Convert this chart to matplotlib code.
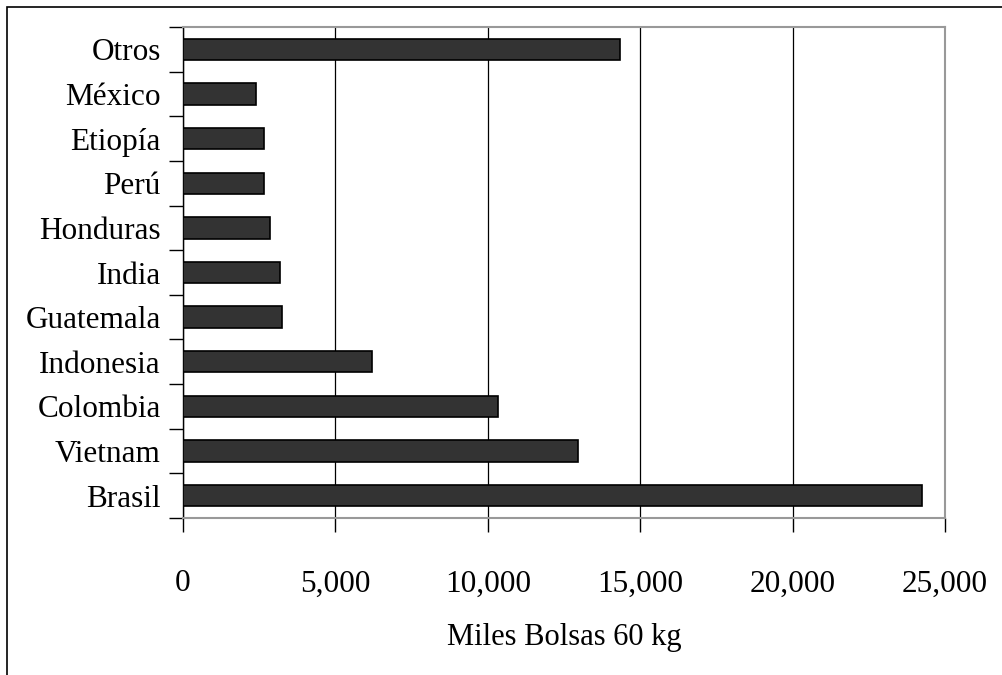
import numpy as np
import matplotlib
matplotlib.use("Agg")
import matplotlib.pyplot as plt
from matplotlib.patches import Rectangle
from matplotlib.ticker import FuncFormatter

# producción de café por país (miles de bolsas de 60 kg)
paises = ["Brasil", "Vietnam", "Colombia", "Indonesia", "Guatemala", "India",
          "Honduras", "Perú", "Etiopía", "México", "Otros"]
valores = [24230, 12950, 10320, 6200, 3240, 3180, 2850, 2650, 2650, 2400, 14340]
xticks = [0, 5000, 10000, 15000, 20000, 25000]

plt.rcParams['font.family'] = ['Liberation Serif', 'DejaVu Serif']
FS = 22.5

W, H = 1003, 675
fig = plt.figure(figsize=(W / 100, H / 100), dpi=100)

# marco del gráfico (solo bordes izquierdo y superior visibles)
fig.patches.append(Rectangle((7 / W, -0.1), 2, 1 - 7 / H + 0.1, transform=fig.transFigure,
                             fill=False, edgecolor='black', linewidth=1.2))

ax = fig.add_axes([183 / W, 1 - 518 / H, (945 - 183) / W, (518 - 27) / H])

y = np.arange(len(paises))
ax.barh(y, valores, height=0.48, color='#333333', edgecolor='black', linewidth=1.2, zorder=3)

ax.set_xlim(0, 25000)
ax.set_ylim(-0.5, len(paises) - 0.5)
ax.set_xticks(xticks)
ax.xaxis.set_major_formatter(FuncFormatter(lambda v, p: f"{int(v):,}"))
ax.xaxis.grid(True, color='black', linewidth=0.9, zorder=0)

# etiquetas de categoría centradas, marcas en los límites
ax.set_yticks(np.arange(-0.5, len(paises), 1.0))
ax.set_yticklabels([])
ax.set_yticks(y, minor=True)
ax.set_yticklabels(paises, minor=True)
ax.tick_params(axis='y', which='minor', length=0, pad=16, labelsize=FS)
ax.tick_params(axis='y', which='major', length=10, width=1, color='black')
ax.tick_params(axis='x', length=10, width=1, pad=27, labelsize=FS)

for s in ['top', 'right', 'bottom']:
    ax.spines[s].set_color('#999999')
    ax.spines[s].set_linewidth(1.5)
ax.spines['left'].set_color('black')
ax.spines['left'].set_linewidth(1)

ax.set_xlabel("Miles Bolsas 60 kg", fontsize=FS - 0.5, labelpad=18)

fig.savefig("out.png", dpi=100)
